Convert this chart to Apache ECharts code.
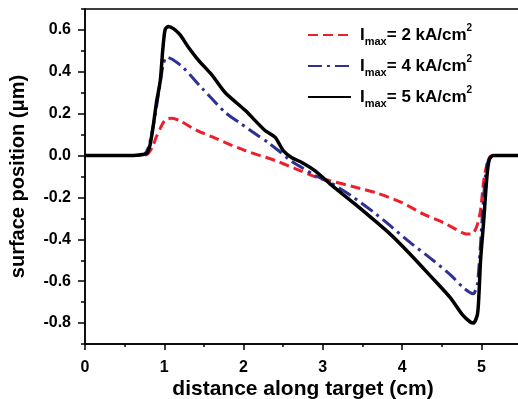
<!DOCTYPE html>
<html>
<head>
<meta charset="utf-8">
<script src="https://cdn.jsdelivr.net/npm/echarts@6/dist/echarts.min.js"></script>
<style>
  html, body { margin: 0; padding: 0; background: #fff; }
  #chart { width: 518px; height: 399px; }
</style>
</head>
<body>
<div id="chart"></div>
<script>
// curve samples (x in cm, y in um)
const x2 = [0, 0.65, 0.78, 0.85, 0.9, 0.95, 1.0, 1.05, 1.1, 1.2, 1.41, 1.6, 1.77, 2.02, 2.4, 2.65, 2.93, 3.09, 3.4, 3.69, 4.0, 4.27, 4.52, 4.77, 4.86, 4.9, 4.95, 4.99, 5.03, 5.07, 5.1, 5.14, 5.2, 5.5]
const y2 = [0, 0, 0.005, 0.04, 0.09, 0.13, 0.165, 0.177, 0.178, 0.165, 0.12, 0.09, 0.062, 0.024, -0.024, -0.062, -0.105, -0.12, -0.15, -0.18, -0.225, -0.28, -0.32, -0.37, -0.375, -0.37, -0.33, -0.26, -0.12, -0.04, -0.01, 0, 0, 0]

const x4 = [0, 0.6, 0.74, 0.8, 0.85, 0.9, 0.95, 0.99, 1.03, 1.1, 1.24, 1.48, 1.77, 1.96, 2.18, 2.31, 2.44, 2.59, 2.74, 2.9, 3.1, 3.35, 3.64, 3.85, 4.1, 4.39, 4.61, 4.77, 4.86, 4.9, 4.95, 4.99, 5.01, 5.05, 5.09, 5.14, 5.2, 5.5]
const y4 = [0, 0, 0.005, 0.04, 0.12, 0.23, 0.35, 0.44, 0.47, 0.46, 0.42, 0.32, 0.206, 0.154, 0.096, 0.062, 0.024, -0.024, -0.058, -0.095, -0.13, -0.19, -0.27, -0.335, -0.415, -0.5, -0.57, -0.63, -0.655, -0.66, -0.61, -0.42, -0.3, -0.1, -0.02, 0, 0, 0]

const x5 = [0, 0.6, 0.72, 0.78, 0.82, 0.86, 0.9, 0.95, 0.98, 1.01, 1.05, 1.12, 1.2, 1.3, 1.43, 1.6, 1.77, 2.02, 2.27, 2.4, 2.5, 2.61, 2.74, 2.9, 3.09, 3.4, 3.85, 4.1, 4.36, 4.61, 4.76, 4.86, 4.9, 4.95, 4.97, 4.99, 5.03, 5.07, 5.1, 5.15, 5.2, 5.5]
const y5 = [0, 0, 0.005, 0.01, 0.05, 0.14, 0.25, 0.36, 0.5, 0.6, 0.617, 0.605, 0.576, 0.52, 0.456, 0.385, 0.3, 0.216, 0.12, 0.087, 0.024, -0.01, -0.034, -0.072, -0.135, -0.23, -0.375, -0.47, -0.576, -0.68, -0.76, -0.795, -0.8, -0.76, -0.66, -0.5, -0.31, -0.1, -0.02, 0, 0, 0]

const currents = [2, 4, 5]
const xMajor = [0, 1, 2, 3, 4, 5]
const xMinor = [0.5, 1.5, 2.5, 3.5, 4.5, 5.5]
const yMajor = [-0.8, -0.6, -0.4, -0.2, 0, 0.2, 0.4, 0.6]
const yMinor = [-0.9, -0.7, -0.5, -0.3, -0.1, 0.1, 0.3, 0.5, 0.7]

const font = 'Liberation Sans'
const pair = (xs, ys) => xs.map((x, i) => [x, ys[i]])
const names = currents.map(c => 'Imax = ' + c + ' kA/cm2')

const chart = echarts.init(document.getElementById('chart'))

const baseX = {
  type: 'value', min: 0, max: 5.5, gridIndex: 0, position: 'bottom',
  splitLine: { show: false }
}
const baseY = {
  type: 'value', min: -0.9, max: 0.7, gridIndex: 0, position: 'left',
  splitLine: { show: false }
}

chart.setOption({
  animation: false,
  grid: {
    left: 85, top: 9, right: -3, bottom: 55,
    outerBoundsMode: 'none', containLabel: false,
    show: true, borderColor: '#000', borderWidth: 1.5
  },
  legend: {
    orient: 'vertical',
    left: 307, top: 23, padding: 0,
    itemWidth: 43, itemHeight: 12, itemGap: 7,
    data: names,
    itemStyle: { color: 'transparent', borderWidth: 0, opacity: 0 },
    formatter: name => {
      const c = currents[names.indexOf(name)]
      return '{i|I}{b|max}{a|= ' + c + ' kA/cm}{c|2}'
    },
    textStyle: {
      rich: {
        i: { fontFamily: font, fontWeight: 'bold', fontSize: 17, lineHeight: 18, padding: [0, 0, 0, 4], color: '#000' },
        a: { fontFamily: font, fontWeight: 'bold', fontSize: 17, lineHeight: 18, color: '#000' },
        b: { fontFamily: font, fontWeight: 'bold', fontSize: 11, lineHeight: 11, verticalAlign: 'bottom', color: '#000' },
        c: { fontFamily: font, fontWeight: 'bold', fontSize: 10, lineHeight: 24, verticalAlign: 'top', color: '#000' }
      }
    }
  },
  xAxis: [
    Object.assign({}, baseX, {
      name: 'distance along target (cm)',
      nameLocation: 'middle', nameGap: 35, nameMoveOverlap: false,
      nameTextStyle: { fontFamily: font, fontWeight: 'bold', fontSize: 21, color: '#000' },
      axisLine: { show: true, onZero: false, lineStyle: { color: '#000', width: 1.5 } },
      axisTick: { show: true, customValues: xMajor, length: 6, lineStyle: { color: '#000', width: 1.5 } },
      axisLabel: { customValues: xMajor, margin: 16, fontFamily: font, fontWeight: 'bold', fontSize: 16, color: '#000' }
    }),
    Object.assign({}, baseX, {
      axisLine: { show: false, onZero: false },
      axisTick: { show: true, customValues: xMinor, length: 3, lineStyle: { color: '#000', width: 1.5 } },
      axisLabel: { show: false }
    })
  ],
  yAxis: [
    Object.assign({}, baseY, {
      name: 'surface position (μm)',
      nameLocation: 'middle', nameGap: 57, nameMoveOverlap: false,
      nameTextStyle: { fontFamily: font, fontWeight: 'bold', fontSize: 20, color: '#000' },
      axisLine: { show: true, onZero: false, lineStyle: { color: '#000', width: 1.5 } },
      axisTick: { show: true, customValues: yMajor, length: 7, lineStyle: { color: '#000', width: 1.5 } },
      axisLabel: {
        customValues: yMajor, margin: 14, fontFamily: font, fontWeight: 'bold', fontSize: 16, color: '#000',
        formatter: v => v.toFixed(1)
      }
    }),
    Object.assign({}, baseY, {
      axisLine: { show: false, onZero: false },
      axisTick: { show: true, customValues: yMinor, length: 4, lineStyle: { color: '#000', width: 1.5 } },
      axisLabel: { show: false }
    })
  ],
  series: [
    {
      name: names[0], type: 'line', data: pair(x2, y2),
      showSymbol: false, symbol: 'none', smooth: 0.25,
      color: '#ee1f2a',
      lineStyle: { color: '#ee1f2a', width: 3, type: [10, 5] }
    },
    {
      name: names[1], type: 'line', data: pair(x4, y4),
      showSymbol: false, symbol: 'none', smooth: 0.25,
      color: '#2e3192',
      lineStyle: { color: '#2e3192', width: 3, type: [14, 5, 3, 5] }
    },
    {
      name: names[2], type: 'line', data: pair(x5, y5),
      showSymbol: false, symbol: 'none', smooth: 0.25,
      color: '#000',
      lineStyle: { color: '#000', width: 3.5 }
    }
  ]
})
</script>
</body>
</html>
